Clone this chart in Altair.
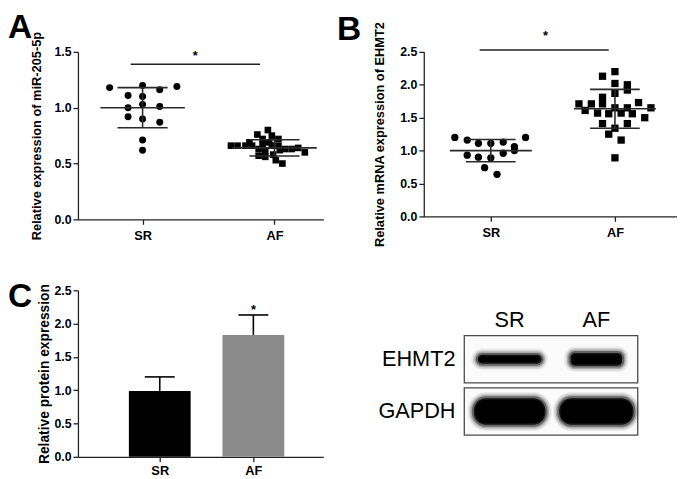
import altair as alt
import pandas as pd

FONT = "Liberation Sans"
AX = "#222222"
groups = ["SR", "AF"]

# ---- Panel A: relative expression of miR-205-5p (jitter offset, value)
a_sr_jit = [-0.25, 0.00, 0.26, -0.11, 0.00, 0.13, 0.00, -0.11, 0.13, -0.11, 0.00, 0.13, 0.00, 0.00]
a_sr_val = [1.18, 1.20, 1.19, 1.11, 1.10, 1.16, 1.03, 1.00, 1.01, 0.92, 0.90, 0.87, 0.71, 0.62]
a_af_jit = [-0.33, -0.28, -0.22, -0.17, -0.13, -0.05, -0.09, -0.02, 0.03, -0.02, 0.03, 0.08, 0.13,
            0.18, 0.23, -0.12, -0.07, -0.12, -0.07, -0.01, 0.06, 0.01, -0.09, -0.04, -0.19, 0.04]
a_af_val = [0.66, 0.66, 0.66, 0.66, 0.76, 0.80, 0.72, 0.75, 0.72, 0.66, 0.66, 0.63, 0.63,
            0.64, 0.60, 0.63, 0.61, 0.57, 0.56, 0.58, 0.50, 0.53, 0.67, 0.69, 0.69, 0.62]
a_mean = [1.00, 0.64]
a_sd = [0.18, 0.073]

# ---- Panel B: relative mRNA expression of EHMT2
b_sr_jit = [-0.29, -0.19, -0.10, 0.00, 0.10, 0.19, 0.19, 0.28, -0.19, -0.10, 0.00, 0.10, -0.05, 0.05]
b_sr_val = [1.20, 1.16, 1.11, 1.11, 1.13, 1.06, 1.00, 1.20, 0.93, 0.90, 0.89, 0.96, 0.74, 0.64]
b_af_jit = [0.00, -0.10, 0.00, 0.10, 0.10, 0.00, -0.10, -0.29, -0.19, -0.10, 0.19, -0.24, -0.14,
            -0.05, 0.00, 0.05, 0.10, 0.14, 0.29, 0.24, -0.10, 0.10, -0.05, 0.00, 0.05, 0.00]
b_af_val = [2.20, 2.13, 2.02, 2.00, 1.92, 1.87, 1.81, 1.71, 1.71, 1.71, 1.73, 1.61, 1.57,
            1.56, 1.65, 1.57, 1.65, 1.56, 1.65, 1.50, 1.41, 1.41, 1.25, 1.34, 1.16, 0.89]
b_mean = [1.00, 1.635]
b_sd = [0.17, 0.295]

# ---- Panel C: relative protein expression (mean, SD)
c_mean = [0.99, 1.83]
c_sd = [0.21, 0.30]
c_colors = ["#000000", "#8a8a8a"]

# ---- Western blot
blot_proteins = ["EHMT2", "GAPDH"]
blot_lanes = ["SR", "AF"]
band_intensity = [[0.40, 0.53], [1.00, 1.00]]   # relative band thickness
band_length = [[0.77, 0.63], [0.86, 0.89]]      # relative band length (lane widths)

LABEXPR = "['" + groups[0] + "','" + groups[1] + "'][datum.value]"


def xaxis(lpad=5):
    return alt.Axis(values=[0, 1], labelExpr=LABEXPR, title=None, grid=False,
                    labelFont=FONT, labelFontSize=13, labelFontWeight="bold", labelColor="black",
                    labelPadding=lpad, tickSize=5, tickColor=AX, tickWidth=1.3,
                    domainColor=AX, domainWidth=1.3, labelFlush=False)


def yaxis(title, vals, tpad, tsize=13):
    return alt.Axis(values=vals, format=".1f", title=title, grid=False,
                    labelFont=FONT, labelFontSize=12.5, labelFontWeight="bold", labelColor="black",
                    labelPadding=2, tickSize=5, tickColor=AX, tickWidth=1.3,
                    domainColor=AX, domainWidth=1.3, titleFont=FONT, titleFontSize=tsize,
                    titleFontWeight="bold", titleColor="black", titlePadding=tpad)


def letter_title(letter, dx, dy):
    return alt.TitleParams(letter, anchor="start", frame="group", dx=dx, dy=dy, fontSize=34,
                           font=FONT, fontWeight="bold", color="black", offset=0)


LINE = dict(color="#2a2a2a", strokeWidth=1.6)


def scatter_panel(letter, dx, dy, jit, vals, mean, sd, ytitle, yvals, ymax, xdom, w, h,
                  mean_hw, sd_hw, sig, csize, ssize, tpad):
    recs = []
    for g in range(2):
        for j, v in zip(jit[g], vals[g]):
            recs.append({"g": g, "x": g + j, "y": v})
    pts = pd.DataFrame(recs)
    xs = alt.Scale(domain=xdom, nice=False, zero=False)
    ys = alt.Scale(domain=[0, ymax], nice=False, zero=True)
    xa = xaxis()
    ya = yaxis(ytitle, yvals, tpad)

    def X(f):
        return alt.X(f, type="quantitative", scale=xs, axis=xa)

    def Y(f):
        return alt.Y(f, type="quantitative", scale=ys, axis=ya)

    bp = alt.Chart(pts)
    circ = bp.transform_filter("datum.g == 0").mark_point(
        shape="circle", filled=True, size=csize, color="black", opacity=1).encode(x=X("x"), y=Y("y"))
    sq = bp.transform_filter("datum.g == 1").mark_point(
        shape="square", filled=True, size=ssize, color="black", opacity=1).encode(x=X("x"), y=Y("y"))

    s = pd.DataFrame({"g": [0, 1], "mean": mean, "sd": sd})
    s["lo"] = s["mean"] - s["sd"]
    s["hi"] = s["mean"] + s["sd"]
    s["m1"] = s["g"] - mean_hw
    s["m2"] = s["g"] + mean_hw
    s["s1"] = s["g"] - sd_hw
    s["s2"] = s["g"] + sd_hw
    sb = alt.Chart(s)
    mean_r = sb.mark_rule(**LINE).encode(x=X("m1"), x2="m2", y=Y("mean"))
    lo_r = sb.mark_rule(**LINE).encode(x=X("s1"), x2="s2", y=Y("lo"))
    hi_r = sb.mark_rule(**LINE).encode(x=X("s1"), x2="s2", y=Y("hi"))
    v_r = sb.mark_rule(**LINE).encode(x=X("g"), y=Y("lo"), y2="hi")

    sig_df = pd.DataFrame({"x1": [sig[0]], "x2": [sig[1]], "y": [sig[2]],
                           "sx": [sig[3]], "sy": [sig[4]], "t": ["*"]})
    sig_r = alt.Chart(sig_df).mark_rule(color=AX, strokeWidth=1.5).encode(x=X("x1"), x2="x2", y=Y("y"))
    star = alt.Chart(sig_df).mark_text(font=FONT, fontSize=13, fontWeight="bold", color="black",
                                       baseline="alphabetic").encode(x=X("sx"), y=Y("sy"), text="t:N")
    return alt.layer(circ, sq, mean_r, lo_r, hi_r, v_r, sig_r, star).properties(
        width=w, height=h, title=letter_title(letter, dx, dy))


panel_a = scatter_panel("A", -71, 14, [a_sr_jit, a_af_jit], [a_sr_val, a_af_val], a_mean, a_sd,
                        "Relative expression of miR-205-5p", [0, 0.5, 1.0, 1.5], 1.5,
                        [-0.49, 1.37], 249, 170, 0.32, 0.19,
                        (-0.09, 0.89, 1.39, 0.40, 1.43), 50, 45, 11)

panel_b = scatter_panel("B", -88, 26, [b_sr_jit, b_af_jit], [b_sr_val, b_af_val], b_mean, b_sd,
                        "Relative mRNA expression of EHMT2", [0, 0.5, 1.0, 1.5, 2.0, 2.5], 2.5,
                        [-0.54, 1.50], 257, 167, 0.33, 0.20,
                        (-0.09, 0.95, 2.53, 0.44, 2.68), 55, 55, 13)

# ---- Panel C
c = pd.DataFrame({"g": [0, 1], "mean": c_mean, "sd": c_sd, "color": c_colors})
c["top"] = c["mean"] + c["sd"]
c["b1"] = c["g"] - 0.33
c["b2"] = c["g"] + 0.33
c["c1"] = c["g"] - 0.16
c["c2"] = c["g"] + 0.16
c["star"] = ["", "*"]
c["sy"] = c["top"] + 0.01
cxs = alt.Scale(domain=[-0.874, 1.747], nice=False, zero=False)
cys = alt.Scale(domain=[0, 2.5], nice=False, zero=True)
cxa = xaxis(3)
cya = yaxis("Relative  protein expression", [0, 0.5, 1.0, 1.5, 2.0, 2.5], 3, 14)


def CX(f):
    return alt.X(f, type="quantitative", scale=cxs, axis=cxa)


def CY(f):
    return alt.Y(f, type="quantitative", scale=cys, axis=cya)


cb = alt.Chart(c)
bars = cb.mark_bar(stroke=None).encode(x=CX("b1"), x2="b2", y=CY("mean"), y2=alt.datum(0),
                                        color=alt.Color("color:N", scale=None))
err = cb.mark_rule(color="black", strokeWidth=1.6).encode(x=CX("g"), y=CY("mean"), y2="top")
cap = cb.mark_rule(color="black", strokeWidth=1.6).encode(x=CX("c1"), x2="c2", y=CY("top"))
cstar = cb.mark_text(font=FONT, fontSize=13, fontWeight="bold", color="black",
                     baseline="alphabetic").encode(x=CX("g"), y=CY("sy"), text="star:N")
panel_c = alt.layer(bars, err, cap, cstar).properties(width=249, height=169,
                                                       title=letter_title("C", -71, 33))

# ---- Western blot panel
PX_X = 88.0   # px per lane unit
PX_Y = 53.0   # px per row unit
FULL_T = 30.0 / PX_Y
bxs = alt.Scale(domain=[-0.99, 1.93], nice=False, zero=False)
bys = alt.Scale(domain=[-1.321, 1.868], nice=False, zero=False, reverse=True)


def BX(f):
    return alt.X(f, type="quantitative", scale=bxs, axis=None)


def BY(f):
    return alt.Y(f, type="quantitative", scale=bys, axis=None)


boxes = pd.DataFrame({"row": [0, 1], "protein": blot_proteins})
boxes["x1"] = -0.523
boxes["x2"] = 1.477
boxes["y1"] = boxes["row"] - 0.453
boxes["y2"] = boxes["row"] + 0.453
box_layer = alt.Chart(boxes).mark_rect(fill="#fbfbfb", stroke="#4a4a4a", strokeWidth=1.3).encode(
    x=BX("x1"), x2="x2", y=BY("y1"), y2="y2")

recs = []
for r, prot in enumerate(blot_proteins):
    for l, lane in enumerate(blot_lanes):
        recs.append({"protein": prot, "row": r, "lane": l,
                     "inten": band_intensity[r][l], "length": band_length[r][l]})
bands = pd.DataFrame(recs)


def band_layer(prot, grow_px, opacity, radius):
    d = bands[bands["protein"] == prot].copy()
    d["x1"] = d["lane"] - d["length"] / 2 - grow_px / PX_X
    d["x2"] = d["lane"] + d["length"] / 2 + grow_px / PX_X
    d["y1"] = d["row"] - d["inten"] * FULL_T / 2 - grow_px / PX_Y
    d["y2"] = d["row"] + d["inten"] * FULL_T / 2 + grow_px / PX_Y
    return alt.Chart(d).mark_rect(color="black", opacity=opacity, cornerRadius=radius).encode(
        x=BX("x1"), x2="x2", y=BY("y1"), y2="y2")


band_layers = []
for prot, rad in [("EHMT2", 6), ("GAPDH", 14)]:
    for grow, op in [(5, 0.06), (3.5, 0.1), (2, 0.2), (0.5, 0.4), (-1.5, 0.8), (-3, 1.0)]:
        band_layers.append(band_layer(prot, grow, op, max(rad + grow, 1)))

lane_lab = pd.DataFrame({"x": [0, 1], "y": [-0.62, -0.62], "t": blot_lanes})
lane_text = alt.Chart(lane_lab).mark_text(font=FONT, fontSize=22, color="black", baseline="alphabetic",
                                          align="center").encode(x=BX("x"), y=BY("y"), text="t:N")
prot_lab = pd.DataFrame({"x": [-0.625, -0.625], "y": [0, 1], "t": blot_proteins})
prot_text = alt.Chart(prot_lab).mark_text(font=FONT, fontSize=22, color="black", baseline="middle",
                                          align="right").encode(x=BX("x"), y=BY("y"), text="t:N")

panel_d = alt.layer(box_layer, *band_layers, lane_text, prot_text).properties(width=257, height=169)

chart = alt.concat(panel_a, panel_b, panel_c, panel_d, columns=2,
                   spacing={"row": 72, "column": 102}, bounds="flush").properties(
    padding={"left": 0, "top": 0, "right": 0, "bottom": 0}
).configure_view(stroke=None)

chart.save("out.html", embed_options={"renderer": "svg", "actions": False})
